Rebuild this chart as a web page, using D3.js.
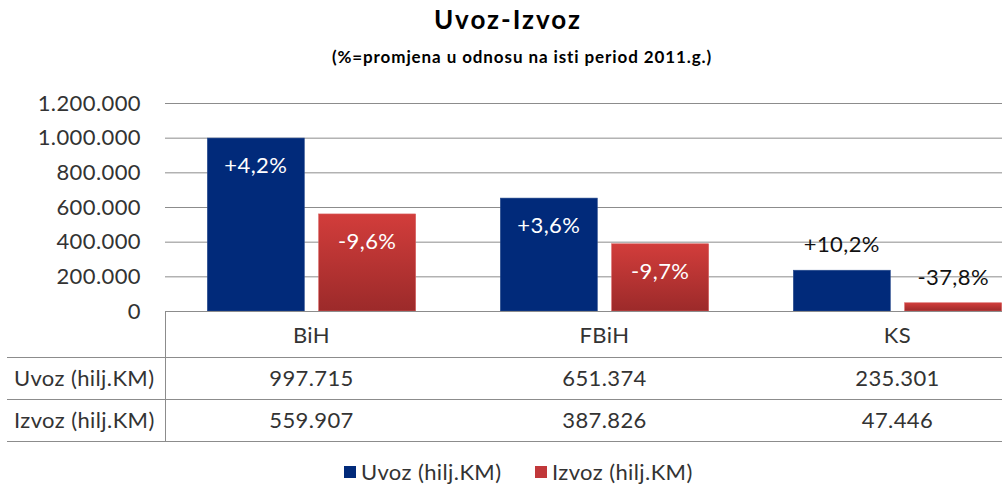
<!DOCTYPE html>
<html>
<head>
<meta charset="utf-8">
<script src="https://cdn.jsdelivr.net/npm/d3@7"></script>
<style>
  body { margin: 0; background: #fff; }
  svg { font-family: Lato, "Open Sans", sans-serif; display: block; }
</style>
</head>
<body>
<script>
// data
const categories = ['BiH', 'FBiH', 'KS']
const seriesNames = ['Uvoz (hilj.KM)', 'Izvoz (hilj.KM)']
const uvoz = [997715, 651374, 235301]
const izvoz = [559907, 387826, 47446]
const uvozLabels = ['+4,2%', '+3,6%', '+10,2%']
const izvozLabels = ['-9,6%', '-9,7%', '-37,8%']
const yTicks = [0, 200000, 400000, 600000, 800000, 1000000, 1200000]

const w = 1002
const h = 490

const svg = d3.select('body')
  .append('svg')
  .attr('width', w)
  .attr('height', h)

// gradient for the red bars
const defs = svg.append('defs')
const grad = defs.append('linearGradient')
  .attr('id', 'redGrad')
  .attr('x1', 0).attr('y1', 0).attr('x2', 0).attr('y2', 1)
grad.append('stop').attr('offset', '0%').attr('stop-color', '#d23d3b')
grad.append('stop').attr('offset', '100%').attr('stop-color', '#9c2a2a')

const colors = ['#012a7a', 'url(#redGrad)']
const legendColors = ['#012a7a', '#c1383a']
const textSize = '22px'
const spacing = '0.4px'

// titles
svg.append('text')
  .attr('x', 508).attr('y', 29)
  .attr('text-anchor', 'middle')
  .style('font-size', '26px')
  .style('font-weight', 'bold')
  .style('letter-spacing', '2px')
  .text('Uvoz-Izvoz')

svg.append('text')
  .attr('x', 522).attr('y', 63)
  .attr('text-anchor', 'middle')
  .style('font-size', '17px')
  .style('font-weight', 'bold')
  .style('letter-spacing', '0.9px')
  .text('(%=promjena u odnosu na isti period 2011.g.)')

// scales
const xScale = d3.scaleBand()
  .domain(categories)
  .range([165, 1044])

const xInner = d3.scaleBand()
  .domain(seriesNames)
  .range([0, xScale.bandwidth()])
  .paddingInner(0.129)
  .paddingOuter(0.38)

const yScale = d3.scaleLinear()
  .domain([0, 1200000])
  .range([311, 103])

const fmt = d3.formatLocale({ decimal: ',', thousands: '.', grouping: [3] }).format(',d')

// grid + y axis
const yAxis = d3.axisLeft(yScale)
  .tickValues(yTicks)
  .tickFormat(fmt)
  .tickSize(-(w - 165))
  .tickPadding(24)

const yG = svg.append('g')
  .attr('transform', 'translate(165,0)')
  .call(yAxis)
yG.select('.domain').remove()
yG.selectAll('.tick line').attr('stroke', '#8c8c8c')
yG.selectAll('.tick text')
  .style('font-size', textSize)
  .style('letter-spacing', spacing)
  .style('font-family', 'Lato, sans-serif')
  .attr('fill', '#333')

// bars
const series = [uvoz, izvoz]
const labels = [uvozLabels, izvozLabels]

series.forEach((vals, s) => {
  svg.append('g')
    .selectAll('rect')
    .data(vals)
    .enter()
    .append('rect')
    .attr('x', (d, i) => xScale(categories[i]) + xInner(seriesNames[s]))
    .attr('y', d => yScale(d))
    .attr('width', xInner.bandwidth())
    .attr('height', d => yScale(0) - yScale(d))
    .attr('fill', colors[s])
    .attr('stroke', s === 0 ? '#2a4c8e' : '#d86060')
    .attr('stroke-width', 0.6)
})

// data labels: inside for tall bars, above for short ones
series.forEach((vals, s) => {
  svg.append('g')
    .selectAll('text')
    .data(vals)
    .enter()
    .append('text')
    .attr('x', (d, i) => xScale(categories[i]) + xInner(seriesNames[s]) + xInner.bandwidth() / 2)
    .attr('y', d => yScale(d) < yScale(300000) ? yScale(d) + 35 : yScale(d) - 18)
    .attr('text-anchor', 'middle')
    .attr('fill', d => yScale(d) < yScale(300000) ? '#fff' : '#111')
    .style('font-size', textSize)
    .style('letter-spacing', spacing)
    .text((d, i) => labels[s][i])
})

// data table
const tableG = svg.append('g')
const lineColor = '#8c8c8c'
tableG.append('line')
  .attr('x1', 165).attr('x2', w).attr('y1', 311.5).attr('y2', 311.5)
  .attr('stroke', lineColor)
tableG.append('line')
  .attr('x1', 165.5).attr('x2', 165.5).attr('y1', 311).attr('y2', 441)
  .attr('stroke', lineColor)
;[357, 399, 441].forEach(y => {
  tableG.append('line')
    .attr('x1', 7).attr('x2', w).attr('y1', y + 0.5).attr('y2', y + 0.5)
    .attr('stroke', lineColor)
})

tableG.selectAll('text.cat')
  .data(categories)
  .enter()
  .append('text')
  .attr('class', 'cat')
  .attr('x', d => xScale(d) + xScale.bandwidth() / 2)
  .attr('y', 343)
  .attr('text-anchor', 'middle')
  .style('font-size', textSize)
  .style('letter-spacing', spacing)
  .attr('fill', '#333')
  .text(d => d)

series.forEach((vals, s) => {
  const rowY = 386 + s * 42
  tableG.append('text')
    .attr('x', 14)
    .attr('y', rowY)
    .style('font-size', textSize)
    .style('letter-spacing', spacing)
    .attr('fill', '#333')
    .text(seriesNames[s])

  tableG.selectAll('text.v' + s)
    .data(vals)
    .enter()
    .append('text')
    .attr('class', 'v' + s)
    .attr('x', (d, i) => xScale(categories[i]) + xScale.bandwidth() / 2)
    .attr('y', rowY)
    .attr('text-anchor', 'middle')
    .style('font-size', textSize)
    .style('letter-spacing', spacing)
    .attr('fill', '#333')
    .text(d => fmt(d))
})

// legend
const legendX = [344, 535]
seriesNames.forEach((name, s) => {
  svg.append('rect')
    .attr('x', legendX[s]).attr('y', 466)
    .attr('width', 12).attr('height', 12)
    .attr('fill', legendColors[s])
  svg.append('text')
    .attr('x', legendX[s] + 17).attr('y', 480)
    .style('font-size', textSize)
    .style('letter-spacing', spacing)
    .attr('fill', '#333')
    .text(name)
})
</script>
</body>
</html>
